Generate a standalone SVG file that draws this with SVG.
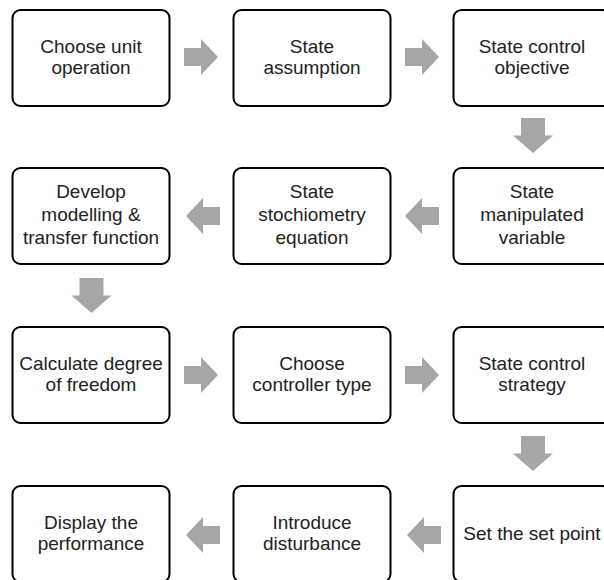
<svg xmlns="http://www.w3.org/2000/svg" xmlns:xlink="http://www.w3.org/1999/xlink" width="604" height="580" viewBox="0 0 604 580">
<style>
.box{fill:#fff;stroke:#000;stroke-width:2}
.t{font-family:"Liberation Sans",Arial,sans-serif;font-size:19px;fill:#222;text-anchor:middle}
.arr{fill:#a6a6a6}
</style>
<defs>
<path id="harrow" d="M-17,-9 L0,-9 L0,-18 L17,0 L0,18 L0,9 L-17,9 Z"/>
<path id="varrow" d="M-12,-17.5 L12,-17.5 L12,0 L20,0 L0,17.5 L-20,0 L-12,0 Z"/>
</defs>
<rect width="604" height="580" fill="#fff"/>
<g id="connectors" class="arr">
<use xlink:href="#harrow" transform="translate(201,57)"/>
<use xlink:href="#harrow" transform="translate(422,57)"/>
<use xlink:href="#varrow" transform="translate(533,135.5)"/>
<use xlink:href="#harrow" transform="translate(422,216) rotate(180)"/>
<use xlink:href="#harrow" transform="translate(203,216) rotate(180)"/>
<use xlink:href="#varrow" transform="translate(91.5,295.5)"/>
<use xlink:href="#harrow" transform="translate(201,375)"/>
<use xlink:href="#harrow" transform="translate(422,375)"/>
<use xlink:href="#varrow" transform="translate(533,453.5)"/>
<use xlink:href="#harrow" transform="translate(424,535) rotate(180)"/>
<use xlink:href="#harrow" transform="translate(203,535) rotate(180)"/>
</g>
<g id="n1"><rect class="box" x="12.5" y="10" width="157" height="96" rx="8"/><text class="t" x="91" y="53">Choose unit</text><text class="t" x="91" y="74">operation</text></g>
<g id="n2"><rect class="box" x="233.5" y="10" width="157" height="96" rx="8"/><text class="t" x="312" y="53">State</text><text class="t" x="312" y="74">assumption</text></g>
<g id="n3"><rect class="box" x="453.5" y="10" width="157" height="96" rx="8"/><text class="t" x="532" y="53">State control</text><text class="t" x="532" y="74">objective</text></g>
<g id="n4"><rect class="box" x="453.5" y="168" width="157" height="96" rx="8"/><text class="t" x="532" y="198">State</text><text class="t" x="532" y="221">manipulated</text><text class="t" x="532" y="244">variable</text></g>
<g id="n5"><rect class="box" x="233.5" y="168" width="157" height="96" rx="8"/><text class="t" x="312" y="198">State</text><text class="t" x="312" y="221">stochiometry</text><text class="t" x="312" y="244">equation</text></g>
<g id="n6"><rect class="box" x="12.5" y="168" width="157" height="96" rx="8"/><text class="t" x="91" y="198">Develop</text><text class="t" x="91" y="221">modelling &amp;</text><text class="t" x="91" y="244">transfer function</text></g>
<g id="n7"><rect class="box" x="12.5" y="327" width="157" height="96" rx="8"/><text class="t" x="91" y="370">Calculate degree</text><text class="t" x="91" y="391">of freedom</text></g>
<g id="n8"><rect class="box" x="233.5" y="327" width="157" height="96" rx="8"/><text class="t" x="312" y="370">Choose</text><text class="t" x="312" y="391">controller type</text></g>
<g id="n9"><rect class="box" x="453.5" y="327" width="157" height="96" rx="8"/><text class="t" x="532" y="370">State control</text><text class="t" x="532" y="391">strategy</text></g>
<g id="n10"><rect class="box" x="453.5" y="486" width="157" height="96" rx="8"/><text class="t" x="532" y="540">Set the set point</text></g>
<g id="n11"><rect class="box" x="233.5" y="486" width="157" height="96" rx="8"/><text class="t" x="312" y="529">Introduce</text><text class="t" x="312" y="550">disturbance</text></g>
<g id="n12"><rect class="box" x="12.5" y="486" width="157" height="96" rx="8"/><text class="t" x="91" y="529">Display the</text><text class="t" x="91" y="550">performance</text></g>
</svg>
